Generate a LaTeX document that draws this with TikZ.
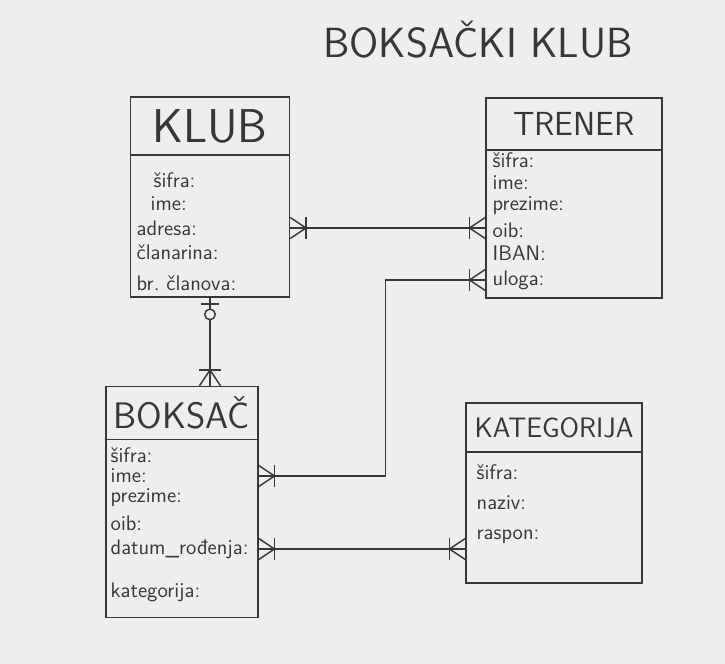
\documentclass[tikz,border=0pt]{standalone}
\usetikzlibrary{decorations.markings}
\definecolor{paper}{RGB}{238,238,238}
\definecolor{ink}{RGB}{55,55,55}
\tikzset{entity/.style={draw, rectangle, inner sep=0pt}}
\tikzset{entname/.style={draw, rectangle, inner sep=0pt, anchor=north}}
\tikzset{attr/.style={anchor=west, inner sep=0pt, font=\sffamily\fontsize{12}{14}\selectfont}}
\tikzset{crowstart/.style={postaction={decorate, decoration={markings,
      mark=at position 0 with {\draw (0pt,-6pt) -- (9pt,0pt) -- (0pt,6pt); \draw (9pt,-6pt) -- (9pt,6pt);}}}}}
\tikzset{crowend/.style={postaction={decorate, decoration={markings,
      mark=at position 1 with {\draw (0pt,-6pt) -- (-9pt,0pt) -- (0pt,6pt); \draw (-9pt,-6pt) -- (-9pt,6pt);}}}}}
\tikzset{zeroone/.style={postaction={decorate, decoration={markings,
      mark=at position 0 with {\draw (3.5pt,-5pt) -- (3.5pt,5pt); \draw[fill=paper] (9.5pt,0pt) circle (3pt);}}}}}

\begin{document}
\begin{tikzpicture}[x=0.02cm, y=-0.02cm, thick, ink]
    \useasboundingbox[fill=paper] (0,0) rectangle (725,664);
    \node[font=\sffamily\fontsize{24}{28}\selectfont] (title) at (478,40) {BOKSAČKI KLUB};
    % KLUB
    \node[entity, minimum width=3.18cm, minimum height=4cm] (klub) at (210,197) {};
    \node[entname, minimum width=3.18cm, minimum height=1.16cm, font=\sffamily\fontsize{27}{30}\selectfont] (klubname) at (klub.north) {KLUB};
    \node[attr] (ksifra) at (153,180) {šifra:};
    \node[attr] (kime) at (150,204) {ime:};
    \node[attr] (kadresa) at (136,228) {adresa:};
    \node[attr] (kclanarina) at (136,252) {članarina:};
    \node[attr] (kbroj) at (136,283) {br.\ članova:};
    % TRENER
    \node[entity, minimum width=3.52cm, minimum height=4cm] (trener) at (574,198) {};
    \node[entname, minimum width=3.52cm, minimum height=1.04cm, font=\sffamily\fontsize{19}{22}\selectfont] (trenername) at (trener.north) {TRENER};
    \node[attr] (tsifra) at (492,160) {šifra:};
    \node[attr] (time) at (492,183) {ime:};
    \node[attr] (tprezime) at (492,206) {prezime:};
    \node[attr] (toib) at (492,230) {oib:};
    \node[attr] (tiban) at (492,253) {IBAN:};
    \node[attr] (tuloga) at (492,280) {uloga:};
    % BOKSAČ
    \node[entity, minimum width=3.04cm, minimum height=4.62cm] (boksac) at (182,502) {};
    \node[entname, minimum width=3.04cm, minimum height=1.06cm, font=\sffamily\fontsize{21}{24}\selectfont] (boksacname) at (boksac.north) {BOKSAČ};
    \node[attr] (bsifra) at (110,455) {šifra:};
    \node[attr] (bime) at (110,476) {ime:};
    \node[attr] (bprezime) at (110,498) {prezime:};
    \node[attr] (boib) at (110,523) {oib:};
    \node[attr] (bdatum) at (110,549) {datum\_rođenja:};
    \node[attr] (bkategorija) at (110,592) {kategorija:};
    % KATEGORIJA
    \node[entity, minimum width=3.52cm, minimum height=3.6cm] (kategorija) at (554,493) {};
    \node[entname, minimum width=3.52cm, minimum height=0.98cm, font=\sffamily\fontsize{16}{19}\selectfont] (kategorijaname) at (kategorija.north) {KATEGORIJA};
    \node[attr] (gsifra) at (476,472) {šifra:};
    \node[attr] (gnaziv) at (476,503) {naziv:};
    \node[attr] (graspon) at (476,537) {raspon:};
    % veze
    \draw[crowstart, crowend] (klub.east |- kadresa) -- (trener.west |- kadresa);
    \draw[crowstart, crowend] (trener.west |- tuloga) -- ++(-100,0) |- (boksac.east |- bime);
    \draw[crowstart, crowend] (boksac.east |- bdatum) -- (kategorija.west |- bdatum);
    \draw[zeroone, crowend] (klub.south) -- (klub.south |- boksacname.north);
\end{tikzpicture}
\end{document}
